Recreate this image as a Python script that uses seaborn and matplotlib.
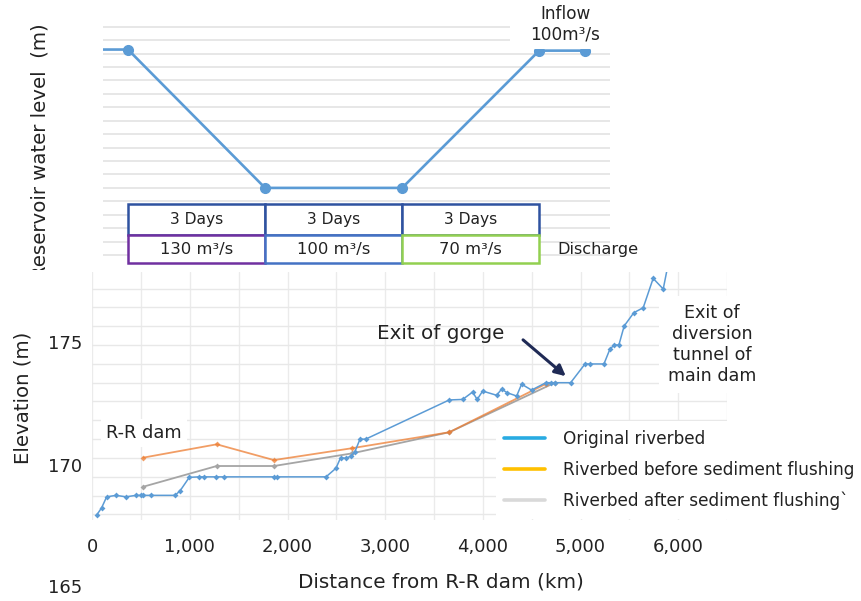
"""
Reservoir drawdown schedule and riverbed profile before/after sediment flushing.
"""

import matplotlib

matplotlib.use("Agg")
import matplotlib.pyplot as plt
import matplotlib.transforms as mtransforms
from matplotlib.lines import Line2D
from matplotlib.patches import Rectangle
import numpy as np
import seaborn as sns

# top panel: water level over the flushing operation (days)
level_days = [-1, 0, 3, 6, 9, 10]
level_m = [16.3, 16.3, 6.0, 6.0, 16.22, 16.22]
period_starts = [0, 3, 6]
period_labels = ["3 Days", "3 Days", "3 Days"]
discharge_labels = ["130 m³/s", "100 m³/s", "70 m³/s"]
discharge_colors = ["#7030a0", "#4472c4", "#92d050"]

# bottom panel: longitudinal riverbed profile
orig_dist = [46, 97, 148, 244, 346, 448, 497, 523, 599, 848, 899, 994, 1096, 1145,
             1267, 1349, 1861, 1895, 2394, 2496, 2544, 2598, 2646, 2690, 2742, 2800,
             3656, 3793, 3895, 3942, 3998, 4141, 4192, 4250, 4346, 4397, 4499, 4646,
             4694, 4738, 4899, 5046, 5096, 5240, 5301, 5345, 5393, 5447, 5546, 5642,
             5744, 5847, 5900]
orig_elev = [167.97, 168.27, 168.71, 168.77, 168.71, 168.77, 168.77, 168.77, 168.77,
             168.77, 168.95, 169.50, 169.52, 169.52, 169.52, 169.52, 169.52, 169.52,
             169.52, 169.87, 170.30, 170.27, 170.36, 170.54, 171.05, 171.05, 172.64,
             172.66, 172.96, 172.66, 173.00, 172.83, 173.08, 172.93, 172.80, 173.28,
             173.04, 173.34, 173.34, 173.34, 173.34, 174.10, 174.10, 174.10, 174.70,
             174.87, 174.87, 175.64, 176.18, 176.38, 177.57, 177.14, 178.20]
before_dist = [523, 1275, 1861, 2657, 3656, 4650]
before_elev = [170.30, 170.84, 170.20, 170.68, 171.33, 173.30]
after_dist = [523, 1275, 1861, 2657, 3656, 4738]
after_elev = [169.12, 169.96, 169.96, 170.47, 171.33, 173.34]
elev_ticks = [170, 175]
dist_ticks = [0, 1000, 2000, 3000, 4000, 5000, 6000]
series_labels = ["Original riverbed", "Riverbed before sediment flushing",
                 "Riverbed after sediment flushing`"]

W, H = 861, 601
BLUE = "#5b9bd5"
INK = "#222222"

sns.set_theme(style="white")
plt.rcParams["font.family"] = ["DejaVu Sans"]
plt.rcParams["text.color"] = INK
plt.rcParams["xtick.color"] = INK
plt.rcParams["ytick.color"] = INK

fig = plt.figure(figsize=(W / 100, H / 100), dpi=100)
ax_top = fig.add_axes([103 / W, 1 - 268.5 / H, 507 / W, 248.5 / H], zorder=1)
ax_bot = fig.add_axes([92.2 / W, 1 - 520 / H, 634.8 / W, 248 / H], zorder=3)

# white sheet over the lower part, hides the cut-off end of the top label
fig.add_artist(Rectangle((0, 0), 1, 1 - 270 / H, transform=fig.transFigure,
                         facecolor="white", edgecolor="none", zorder=2))

# ---- top panel ----
ax_top.set_xlim(-0.547, 10.55)
ax_top.set_ylim(0, 18.5)
ax_top.set_yticks(range(1, 19))
ax_top.yaxis.grid(True, color="#e3e3e3", linewidth=1.2)
ax_top.set_xticks(range(0, 11))
ax_top.tick_params(axis="y", length=0, labelleft=False)
ax_top.tick_params(axis="x", length=3, direction="in", color="#d0d0d0", labelbottom=False)
for side in ax_top.spines.values():
    side.set_visible(False)

sns.lineplot(x=level_days, y=level_m, ax=ax_top, color=BLUE, linewidth=1.9,
             sort=False, estimator=None, zorder=2)
ax_top.plot(level_days[1:], level_m[1:], "o", color=BLUE, markersize=7, zorder=2)

for start, day_txt in zip(period_starts, period_labels):
    ax_top.add_patch(Rectangle((start, 2.5), 3, 2.3, facecolor="white",
                               edgecolor="#2f52a0", linewidth=1.8, zorder=3, clip_on=False))
    ax_top.text(start + 1.5, 3.62, day_txt, ha="center", va="center", fontsize=11.2, zorder=5)
for start, q_txt, q_col in zip(period_starts, discharge_labels, discharge_colors):
    ax_top.add_patch(Rectangle((start, 0.4), 3, 2.1, facecolor="white",
                               edgecolor=q_col, linewidth=1.8, zorder=4, clip_on=False))
    ax_top.text(start + 1.5, 1.42, q_txt, ha="center", va="center", fontsize=11.8, zorder=5)

ax_top.text(9.39, 1.45, "Discharge", ha="left", va="center", fontsize=11.6)
ax_top.add_patch(Rectangle((8.36, 16.37), 3, 3, facecolor="white", edgecolor="none",
                           zorder=3, clip_on=False))
ax_top.text(9.57, 16.72, "Inflow\n100m³/s", ha="center", va="bottom", fontsize=12.2,
            linespacing=1.2, zorder=4)

fig.text(40 / W, 1 - 23 / H, "Reservoir water level  (m)", rotation=90,
         ha="center", va="top", fontsize=14.2, zorder=1.5)

# ---- bottom panel ----
ax_bot.set_xlim(0, 6500)
ax_bot.set_ylim(167.77, 177.83)
ax_bot.set_xticks(dist_ticks)
ax_bot.set_xticklabels([f"{d:,}" for d in dist_ticks])
ax_bot.set_xticks(np.arange(0, 7000, 500), minor=True)
ax_bot.set_yticks(elev_ticks)
ax_bot.set_yticks(np.arange(168.0, 177.5, 0.763), minor=True)
ax_bot.xaxis.grid(True, which="both", color="#ebebeb", linewidth=1.0)
ax_bot.yaxis.grid(True, which="minor", color="#e8e8e8", linewidth=1.0)
ax_bot.yaxis.grid(False, which="major")
ax_bot.tick_params(which="both", length=0)
ax_bot.tick_params(axis="x", labelsize=13, pad=13)
ax_bot.tick_params(axis="y", labelsize=13, pad=7)
for side in ax_bot.spines.values():
    side.set_visible(False)

sns.lineplot(x=after_dist, y=after_elev, ax=ax_bot, color="#a5a5a5", linewidth=1.3,
             marker="D", markersize=3, markeredgewidth=0, sort=False, estimator=None)
sns.lineplot(x=before_dist, y=before_elev, ax=ax_bot, color="#ed7d31", linewidth=1.3,
             marker="D", markersize=3, markeredgewidth=0, sort=False, estimator=None,
             alpha=0.75)
sns.lineplot(x=orig_dist, y=orig_elev, ax=ax_bot, color=BLUE, linewidth=1.1,
             marker="D", markersize=3, markeredgewidth=0, sort=False, estimator=None)

blend = mtransforms.blended_transform_factory(ax_bot.transAxes, ax_bot.transData)
ax_bot.text(-0.016, 165, "165", transform=blend, ha="right", va="center",
            fontsize=13, clip_on=False)
ax_bot.text(-0.109, 0.492, "Elevation (m)", transform=ax_bot.transAxes, rotation=90,
            ha="center", va="center", fontsize=14.2)
ax_bot.text(0.5495, -0.25, "Distance from R-R dam (km)", transform=ax_bot.transAxes,
            ha="center", va="center", fontsize=14.4)

ax_bot.text(3571, 175.35, "Exit of gorge", ha="center", va="center", fontsize=14.3)
ax_bot.annotate("", xy=(4871, 173.53), xytext=(4390, 175.15),
                arrowprops=dict(arrowstyle="-|>", color="#1f2a55", lw=2.2,
                                mutation_scale=16))
ax_bot.text(6345, 174.89, "Exit of\ndiversion\ntunnel of\nmain dam", ha="center",
            va="center", fontsize=12.6, linespacing=1.2, zorder=5,
            bbox=dict(boxstyle="square,pad=0.5", facecolor="white", edgecolor="none"))
ax_bot.text(141, 171.30, "R-R dam", ha="left", va="center", fontsize=12.8,
            bbox=dict(boxstyle="square,pad=0.3", facecolor="white", edgecolor="none"))

handles = [Line2D([], [], color=c, linewidth=2.6)
           for c in ["#29abe2", "#ffc000", "#d9d9d9"]]
ax_bot.legend(handles, series_labels, loc="center left",
              bbox_to_anchor=((504 - 0.5 * 17) / W, 1 - 470 / H),
              bbox_transform=fig.transFigure, frameon=True, facecolor="white",
              edgecolor="none", framealpha=1, fancybox=False, fontsize=12.2,
              handlelength=2.4, handletextpad=1.06, labelspacing=0.76,
              borderpad=0.5, borderaxespad=0)

fig.savefig("out.png", dpi=100)
